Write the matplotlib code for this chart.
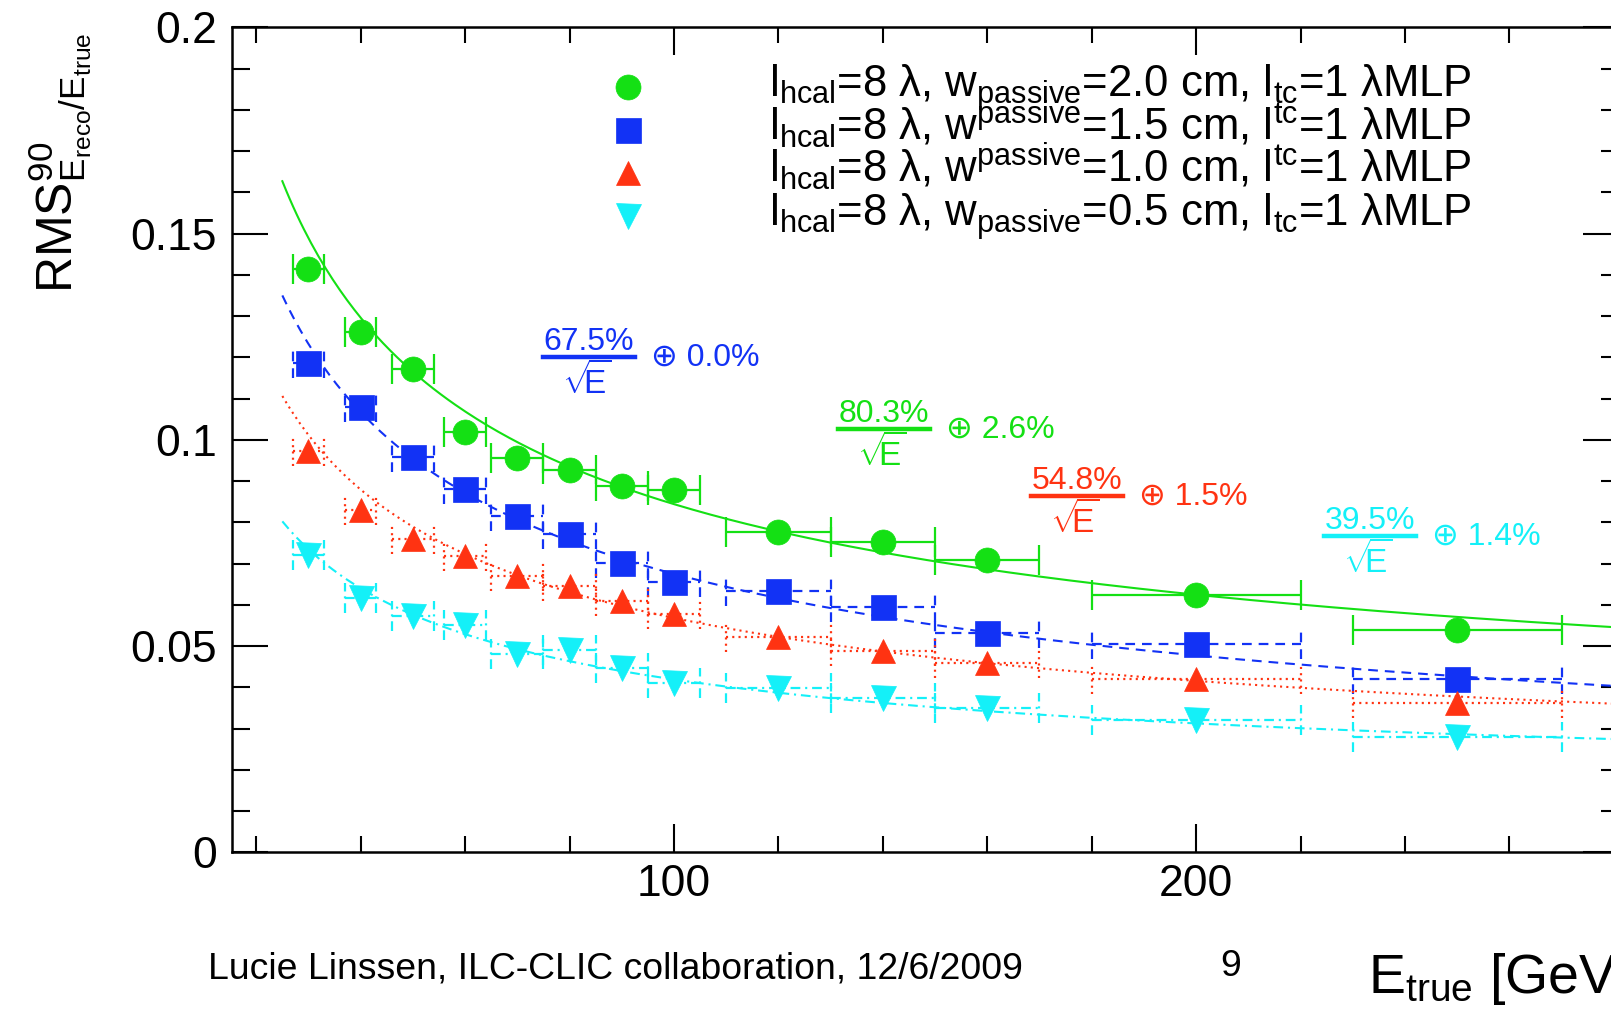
import numpy as np
import matplotlib
matplotlib.use("Agg")
import matplotlib.pyplot as plt
from matplotlib.ticker import MultipleLocator, FuncFormatter
from matplotlib.lines import Line2D

plt.rcParams['font.family'] = ['Liberation Sans', 'DejaVu Sans']
plt.rcParams['mathtext.fontset'] = 'custom'
plt.rcParams['mathtext.rm'] = 'Liberation Sans'
plt.rcParams['mathtext.it'] = 'Liberation Sans'
plt.rcParams['mathtext.bf'] = 'Liberation Sans:bold'
plt.rcParams['lines.scale_dashes'] = False

W, H = 1611, 1010

# beam energies and bin half widths [GeV]
energy = np.array([30, 40, 50, 60, 70, 80, 90, 100, 120, 140, 160, 200, 250])
half_bin = np.array([3, 3, 4, 4, 5, 5, 5, 5, 10, 10, 10, 20, 20])

# RMS90 / E for the four absorber thicknesses
rms_20 = [0.1413, 0.1262, 0.1171, 0.1020, 0.0957, 0.0928, 0.0888, 0.0878,
          0.0776, 0.0753, 0.0709, 0.0624, 0.0539]
rms_15 = [0.1185, 0.1080, 0.0959, 0.0880, 0.0815, 0.0771, 0.0701, 0.0656,
          0.0633, 0.0595, 0.0531, 0.0504, 0.0419]
rms_10 = [0.0974, 0.0830, 0.0759, 0.0718, 0.0670, 0.0646, 0.0609, 0.0577,
          0.0523, 0.0488, 0.0458, 0.0419, 0.0361]
rms_05 = [0.0721, 0.0617, 0.0573, 0.0551, 0.0480, 0.0490, 0.0448, 0.0411,
          0.0398, 0.0375, 0.0349, 0.0321, 0.0280]

# fit results a/sqrt(E) (+) b
stoch = [0.803, 0.675, 0.548, 0.395]
const = [0.026, 0.000, 0.015, 0.014]

legend_lines = [
    r"$\mathregular{l_{hcal}}$=8 λ, $\mathregular{w_{passive}}$=2.0 cm, $\mathregular{l_{tc}}$=1 λMLP",
    r"$\mathregular{l_{hcal}}$=8 λ, $\mathregular{w^{passive}}$=1.5 cm, $\mathregular{l^{tc}}$=1 λMLP",
    r"$\mathregular{l_{hcal}}$=8 λ, $\mathregular{w^{passive}}$=1.0 cm, $\mathregular{l^{tc}}$=1 λMLP",
    r"$\mathregular{l_{hcal}}$=8 λ, $\mathregular{w_{passive}}$=0.5 cm, $\mathregular{l_{tc}}$=1 λMLP",
]

series = [rms_20, rms_15, rms_10, rms_05]
colors = ['#14e014', '#1232f5', '#ff3312', '#14f0f8']
markers = ['o', 's', '^', 'v']
msizes = [18, 18, 17, 18]
lstyles = ['-', (0, (7, 5)), (0, (1.5, 3)), (0, (7, 3.5, 1.5, 3.5))]

# where the fit labels sit (pixels): fraction centre x, bar y
label_pos = [(884, 429), (589, 357), (1077, 496), (1370, 536)]


def px(x, y):
    return x / W, 1 - y / H


fig = plt.figure(figsize=(W / 100, H / 100), dpi=100)
ax = fig.add_axes([231.7 / W, 157.7 / H, (1619 - 231.7) / W, (852.3 - 27.3) / H])

cap_h = 15 / 4125
efit = np.linspace(25, 300, 400)
for i, vals in enumerate(series):
    vals = np.array(vals)
    c = colors[i]
    ls = lstyles[i]
    # fit curve
    ax.plot(efit, np.sqrt((stoch[i] / np.sqrt(efit)) ** 2 + const[i] ** 2),
            color=c, lw=1.5, ls=ls, zorder=3)
    # horizontal bin bars with end marks
    ax.hlines(vals, energy - half_bin, energy + half_bin, colors=c, lw=1.6,
              linestyles=[ls], zorder=2)
    ax.vlines(np.r_[energy - half_bin, energy + half_bin],
              np.r_[vals, vals] - cap_h, np.r_[vals, vals] + cap_h,
              colors=c, lw=1.6, linestyles=[ls], zorder=2)
    ax.plot(energy, vals, ls='none', marker=markers[i], ms=msizes[i],
            color=c, mec=c, mew=0.5, zorder=4)

ax.set_xlim(15.3, 281)
ax.set_ylim(0, 0.2)
ax.xaxis.set_major_locator(MultipleLocator(100))
ax.xaxis.set_minor_locator(MultipleLocator(20))
ax.yaxis.set_major_locator(MultipleLocator(0.05))
ax.yaxis.set_minor_locator(MultipleLocator(0.01))
ax.yaxis.set_major_formatter(FuncFormatter(lambda v, p: f"{v:g}"))
ax.tick_params(which='both', direction='in', top=True, right=True, width=1.5,
               labelsize=32, color='black')
ax.tick_params(axis='x', which='major', length=20, pad=8.6)
ax.tick_params(axis='x', which='minor', length=11.5)
ax.tick_params(axis='y', which='major', length=26, pad=10.6)
ax.tick_params(axis='y', which='minor', length=13)
for s in ax.spines.values():
    s.set_linewidth(1.8)

# legend
for i, line in enumerate(legend_lines):
    yb = 96.7 + i * 43
    fig.add_artist(Line2D([px(628, 0)[0]], [px(0, yb - 10)[1]], marker=markers[i],
                          ms=msizes[i], color=colors[i], mec=colors[i], mew=0.5,
                          transform=fig.transFigure))
    fig.text(*px(769, yb), line, fontsize=31.5, va='baseline', ha='left')

# fit result labels
for i, (cx, by) in enumerate(label_pos):
    c = colors[i]
    fig.text(*px(cx, by - 7), f"{stoch[i] * 100:.1f}%", color=c, fontsize=23,
             ha='center', va='baseline')
    fig.add_artist(Line2D([px(cx - 46, 0)[0], px(cx + 46, 0)[0]], [px(0, by)[1]] * 2,
                          color=c, lw=3.2, transform=fig.transFigure))
    fig.text(*px(cx - 2, by + 5), r"$\sqrt{\!\!\mathregular{E}}$", color=c, fontsize=24,
             ha='center', va='top')
    fig.text(*px(cx + 62, by + 1), f"⊕ {const[i] * 100:.1f}%", color=c, fontsize=23,
             ha='left', va='center')

# axis titles
fig.text(*px(60, 293), r"$\mathregular{RMS^{90}_{E_{reco}/E_{true}}}$", rotation=90,
         ha='center', va='bottom', fontsize=36)
fig.text(*px(1368, 993.3), r"$\mathregular{E_{true}}$ [GeV]", fontsize=40,
         ha='left', va='baseline')

# slide footer
fig.text(*px(207.8, 978.3), "Lucie Linssen, ILC-CLIC collaboration, 12/6/2009",
         fontsize=26.9, ha='left', va='baseline')
fig.text(*px(1231, 976.5), "9", fontsize=26.9, ha='center', va='baseline')

fig.savefig("out.png", dpi=100)
